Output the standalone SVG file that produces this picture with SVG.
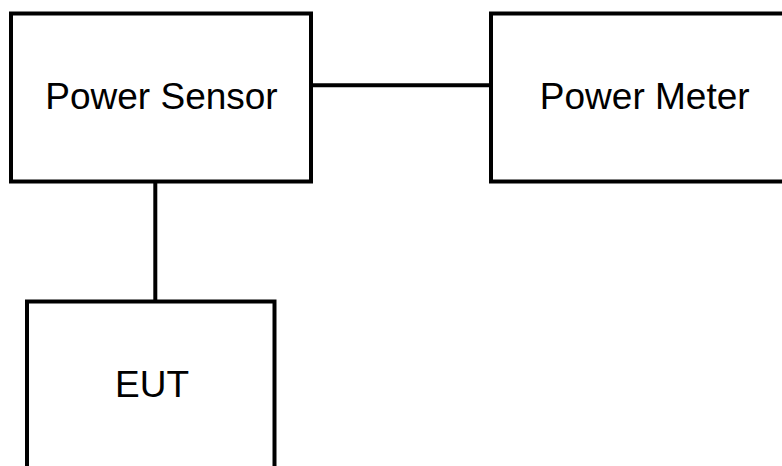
<svg xmlns="http://www.w3.org/2000/svg" width="782" height="466" viewBox="0 0 782 466">
<style>
.box{fill:#fff;stroke:#000;stroke-width:4}
.lbl{font-family:"Liberation Sans",Arial,sans-serif;font-size:37px;fill:#000;text-anchor:middle}
.con{stroke:#000;stroke-width:4;fill:none}
</style>
<rect width="782" height="466" fill="#fff"/>
<g id="connectors">
<line class="con" x1="311" y1="85.3" x2="491" y2="85.3"/>
<line class="con" x1="155.3" y1="181.5" x2="155.3" y2="301.5"/>
</g>
<g id="power-sensor">
<rect class="box" x="11" y="13.5" width="300" height="168"/>
<text class="lbl" x="161.5" y="108.5">Power Sensor</text>
</g>
<g id="power-meter">
<rect class="box" x="491" y="13.5" width="310" height="168"/>
<text class="lbl" x="644.7" y="108.5">Power Meter</text>
</g>
<g id="eut">
<rect class="box" x="27" y="301.5" width="247.5" height="200"/>
<text class="lbl" x="152" y="397">EUT</text>
</g>
</svg>
